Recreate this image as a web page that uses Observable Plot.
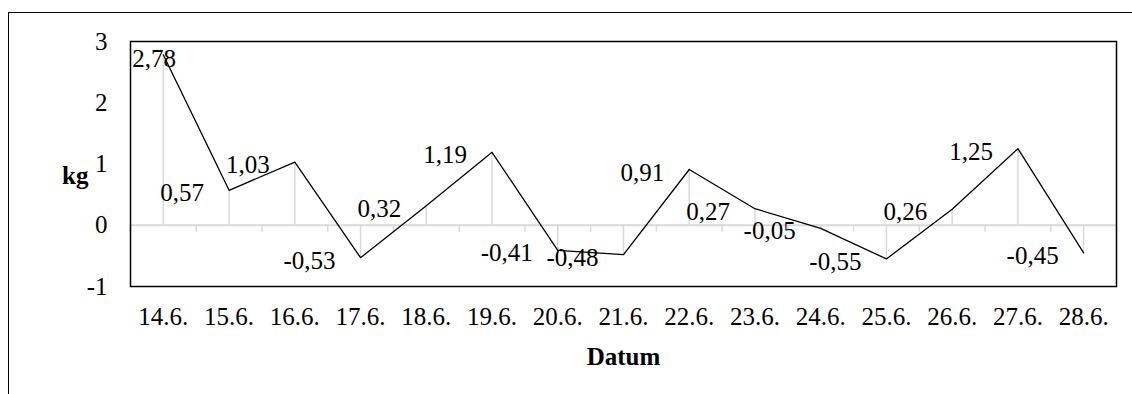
<!DOCTYPE html>
<html>
<head>
<meta charset="utf-8">
<script src="https://cdn.jsdelivr.net/npm/d3@7"></script>
<script src="https://cdn.jsdelivr.net/npm/@observablehq/plot@0.6"></script>
<style>
  html, body { margin: 0; padding: 0; background: #fff; }
  #wrap { position: relative; width: 1132px; height: 394px; overflow: hidden; }
  #outer { position: absolute; left: 8px; top: 12px; width: 1200px; height: 500px; z-index: 2;
           border-left: 1px solid #000; border-top: 1px solid #000; pointer-events: none; }
  #chart { position: absolute; left: 0; top: 0; z-index: 1; }
</style>
</head>
<body>
<div id="wrap"><div id="outer"></div><div id="chart"></div></div>
<script>
const dates = ["14.6.", "15.6.", "16.6.", "17.6.", "18.6.", "19.6.", "20.6.", "21.6.",
               "22.6.", "23.6.", "24.6.", "25.6.", "26.6.", "27.6.", "28.6."];
const values = [2.78, 0.57, 1.03, -0.53, 0.32, 1.19, -0.41, -0.48,
                0.91, 0.27, -0.05, -0.55, 0.26, 1.25, -0.45];
const yTicks = [-1, 0, 1, 2, 3];
const xTitle = "Datum";
const yTitle = "kg";

const data = dates.map((d, i) => ({i, date: d, value: values[i]}));
const boundaries = d3.range(dates.length + 1).map(i => i - 0.5);
const fmt = v => v.toFixed(2).replace(".", ",");
const FS = 25;

const chart = Plot.plot({
  width: 1132,
  height: 394,
  marginLeft: 130,
  marginRight: 16,
  marginTop: 41,
  marginBottom: 108,
  style: {fontFamily: "'Liberation Serif', 'Times New Roman', serif", fontSize: FS + "px", color: "#000", background: "#fff"},
  x: {type: "linear", domain: [-0.5, dates.length - 0.5]},
  y: {domain: [-1, 3]},
  marks: [
    Plot.axisX({ticks: d3.range(dates.length), tickFormat: i => dates[i], tickSize: 0, tickPadding: 21, label: null, fontSize: FS}),
    Plot.axisY({ticks: yTicks, tickFormat: d => String(d), tickSize: 0, tickPadding: 23, label: null, fontSize: FS}),
    Plot.ruleX(data, {x: "i", y1: 0, y2: "value", stroke: "#d9d9d9", strokeWidth: 1.5}),
    Plot.ruleY([0], {stroke: "#d9d9d9", strokeWidth: 2}),
    Plot.ruleX(boundaries, {x: d => d, y1: 0, y2: 0, insetTop: 0, insetBottom: -7, stroke: "#d9d9d9", strokeWidth: 1.5}),
    Plot.line(data, {x: "i", y: "value", stroke: "#000", strokeWidth: 1.3}),
    Plot.text(data.filter(d => d.i > 0), {x: "i", y: "value", text: d => fmt(d.value), textAnchor: "end", lineAnchor: "middle", dx: -25, dy: 3, fontSize: FS, fill: "#000"}),
    Plot.text(data.filter(d => d.i === 0), {x: "i", y: "value", text: d => fmt(d.value), textAnchor: "start", lineAnchor: "middle", dx: -31, dy: 4, fontSize: FS, fill: "#000"}),
    Plot.frame({stroke: "#000", strokeWidth: 1.5}),
    Plot.text([yTitle], {frameAnchor: "left", textAnchor: "end", lineAnchor: "middle", dx: -42, dy: 12, fontWeight: "bold", fontSize: FS, fill: "#000"}),
    Plot.text([xTitle], {frameAnchor: "bottom", lineAnchor: "middle", dy: 70, fontWeight: "bold", fontSize: FS, fill: "#000"})
  ]
});
document.getElementById("chart").appendChild(chart);
</script>
</body>
</html>
